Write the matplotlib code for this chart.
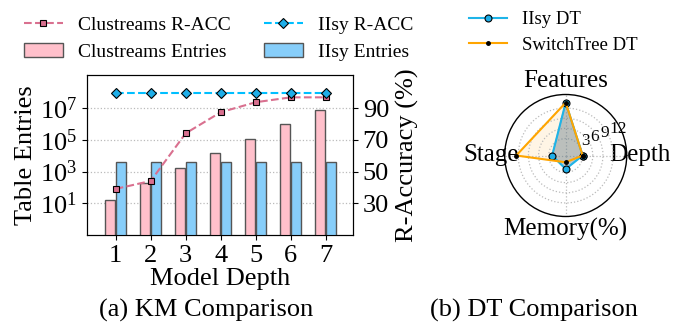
import numpy as np
import matplotlib
matplotlib.use("Agg")
import matplotlib.pyplot as plt

plt.rcParams['font.family'] = ['Liberation Serif', 'DejaVu Serif']
plt.rcParams['mathtext.fontset'] = 'custom'
plt.rcParams['mathtext.rm'] = 'Liberation Serif'
plt.rcParams['mathtext.it'] = 'Liberation Serif:italic'

# ---- data (a) KM comparison ----
depths = [1, 2, 3, 4, 5, 6, 7]
clu_entries = [15.5, 180, 1630, 14500, 1.1e5, 9.8e5, 7.8e6]
iisy_entries = [3900, 3900, 3900, 3900, 3900, 3900, 3900]
clu_racc = [39.1, 44.1, 74.2, 87.5, 93.8, 96.9, 96.9]
iisy_racc = [99.8, 99.8, 99.8, 99.8, 99.8, 99.8, 99.8]

# ---- data (b) DT comparison ----
radar_axes = ['Depth', 'Features', 'Stage', 'Memory(%)']
iisy_dt = [3, 13.6, 2, 2]
switchtree_dt = [3, 13.6, 12.6, 0]
radar_ticks = [3, 6, 9, 12]

fig = plt.figure(figsize=(6.83, 3.24), dpi=100)

# ---------------- left chart ----------------
ax = fig.add_axes([87/683, 1-235/324, 266/683, 160/324])
x = np.array(depths)
w = 0.28
off = 0.157
b1 = ax.bar(x - off, clu_entries, width=w, color='#ffc0cb', edgecolor='#555555',
            linewidth=1.0, label='Clustreams Entries', zorder=3)
b2 = ax.bar(x + off, iisy_entries, width=w, color='#87cefa', edgecolor='#555555',
            linewidth=1.0, label='IIsy Entries', zorder=3)
ax.set_yscale('log')
ax.set_ylim(0.1, 10**9.1)
ax.set_yticks([1e1, 1e3, 1e5, 1e7])
ax.yaxis.set_minor_locator(matplotlib.ticker.NullLocator())
ax.set_xlim(0.18, 7.78)
ax.set_xticks(depths)
ax.grid(axis='y', linestyle=':', color='#bbbbbb', linewidth=0.9, zorder=0)
ax.set_axisbelow(True)
ax.tick_params(labelsize=19, length=3.5)
ax.set_xlabel('Model Depth', fontsize=19, labelpad=1)
ax.set_ylabel('Table Entries', fontsize=19, labelpad=2)

ax2 = ax.twinx()
l1, = ax2.plot(x, clu_racc, linestyle='--', color='#d9708f', linewidth=1.5,
               marker='s', markersize=5, markerfacecolor='#d9708f',
               markeredgecolor='black', markeredgewidth=0.8, label='Clustreams R-ACC', zorder=4)
l2, = ax2.plot(x, iisy_racc, linestyle='--', color='#00bfff', linewidth=1.5,
               marker='D', markersize=5, markerfacecolor='#1eaee8',
               markeredgecolor='black', markeredgewidth=0.8, label='IIsy R-ACC', zorder=4)
ax2.set_ylim(10, 111)
ax2.set_yticks([30, 50, 70, 90])
ax2.tick_params(labelsize=19, length=3.5)
ax2.set_ylabel('R-Accuracy (%)', fontsize=19, labelpad=5)

fig.legend([l1, b1, l2, b2],
           ['Clustreams R-ACC', 'Clustreams Entries', 'IIsy R-ACC', 'IIsy Entries'],
           ncol=2, loc='upper left', bbox_to_anchor=(10/683, 1-3/324), frameon=False,
           fontsize=14, handlelength=2.0, columnspacing=1.7, labelspacing=0.45,
           borderaxespad=0.3)

fig.text(206/683, 1-310/324, '(a) KM Comparison', fontsize=19, ha='center', va='center')

# ---------------- radar ----------------
axr = fig.add_axes([504.7/683, 1-216.5/324, 122/683, 122/324], projection='polar')
theta = np.deg2rad([0, 90, 180, 270])
th_closed = np.append(theta, theta[0])
i_closed = iisy_dt + [iisy_dt[0]]
s_closed = switchtree_dt + [switchtree_dt[0]]
li, = axr.plot(th_closed, i_closed, color='#1eb4e8', linewidth=1.5, marker='o',
               markersize=5, markerfacecolor='#1eaee8', markeredgecolor='black',
               markeredgewidth=0.8, label='IIsy DT', zorder=3)
axr.fill(th_closed, i_closed, color='#56707f', alpha=0.4, zorder=2)
ls, = axr.plot(th_closed, s_closed, color='#ffa500', linewidth=1.5, marker='o',
               markersize=2.5, markerfacecolor='black', markeredgecolor='black',
               label='SwitchTree DT', zorder=4)
axr.fill(th_closed, s_closed, color='#ffa500', alpha=0.1, zorder=1)
axr.set_ylim(-2, 16)
axr.set_yticks(radar_ticks)
axr.set_yticklabels([str(t) for t in radar_ticks], fontsize=12.5)
axr.set_rlabel_position(22.5)
axr.set_xticks(theta)
axr.set_xticklabels(radar_axes, fontsize=18)
axr.tick_params(axis='x', pad=-1)
axr.grid(True, linestyle=':', color='#bbbbbb', linewidth=0.9)
axr.spines['polar'].set_linewidth(1.0)

fig.legend([li, ls], ['IIsy DT', 'SwitchTree DT'], loc='upper left',
           bbox_to_anchor=(456/683, 1+2/324), frameon=False, fontsize=13.5,
           handlelength=2.0, labelspacing=0.45, borderaxespad=0.3)

fig.text(534/683, 1-310/324, '(b) DT Comparison', fontsize=19, ha='center', va='center')

fig.savefig('out.png', dpi=100)
